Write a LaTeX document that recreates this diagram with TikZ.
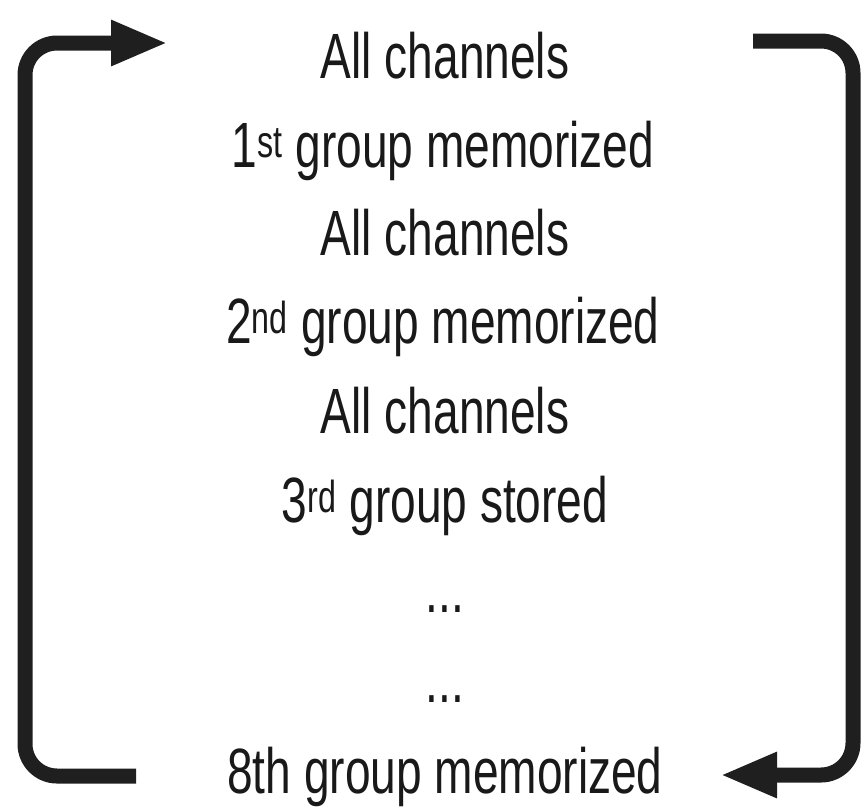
\documentclass[tikz,border=0pt]{standalone}
\usepackage{fontspec}
\setmainfont{Liberation Sans}[FakeStretch=0.72]
\usetikzlibrary{arrows.meta}
\tikzset{
  lbl/.style={font=\fontsize{64}{64}\selectfont, inner sep=0pt, anchor=base, text=black!90},
  conn/.style={line width=15pt, draw=black!88, rounded corners=32pt,
    -{Triangle[length=57pt,width=42pt]}}
}
\begin{document}
\begin{tikzpicture}[x=1pt,y=-1pt]
\useasboundingbox (0,0) rectangle (861,807);
\node[lbl] (t1) at (445,78) {All channels};
\node[lbl] (t2) at (443,167) {1\textsuperscript{st} group memorized};
\node[lbl] (t3) at (445,255) {All channels};
\node[lbl] (t4) at (443,343) {2\textsuperscript{nd} group memorized};
\node[lbl] (t5) at (445,433) {All channels};
\node[lbl] (t6) at (445,522) {3\textsuperscript{rd} group stored};
\node[lbl] (t7) at (445,612) {...};
\node[lbl] (t8) at (445,702) {...};
\node[lbl] (t9) at (445,793) {8th group memorized};
\coordinate (ls) at (136,776);
\coordinate (lb) at (25,776);
\coordinate (lt) at (25,43);
\coordinate (le) at (168,43);
\coordinate (rs) at (753,41);
\coordinate (rt) at (853,41);
\coordinate (rb) at (853,775);
\coordinate (re) at (720,775);
\draw[conn] (ls) -- (lb) -- (lt) -- (le);
\draw[conn] (rs) -- (rt) -- (rb) -- (re);
\end{tikzpicture}
\end{document}
